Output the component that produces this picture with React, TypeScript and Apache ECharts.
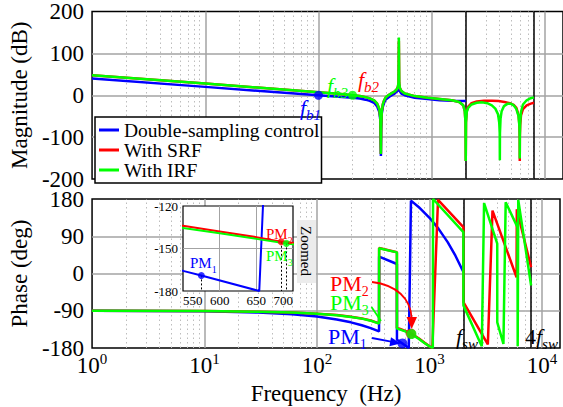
import React, { useEffect, useRef } from 'react';
import * as echarts from 'echarts';

const FONT = "'Liberation Serif', 'Times New Roman', Times, serif";
const BLUE = '#0000ff';
const RED = '#ff0000';
const GREEN = '#00ff00';
const GRIDC = '#a3a3a3';
const MINORC = '#bdbdbd';

const seriesNames = ['Double-sampling control', 'With SRF', 'With IRF'];
const xTickExponents = [0, 1, 2, 3, 4];
const magTicks = [-200, -100, 0, 100, 200];
const phaseTicks = [-180, -90, 0, 90, 180];
const insetFreqTicks = [550, 600, 650, 700];
const insetPhaseTicks = [-180, -150, -120];
const minorFreqs = [
  2, 3, 4, 5, 6, 7, 8, 9,
  20, 30, 40, 50, 60, 70, 80, 90,
  200, 300, 400, 500, 600, 700, 800, 900,
  2000, 3000, 4000, 5000, 6000, 7000, 8000, 9000,
];
const switchingFreqs = [2000, 8000];

// Magnitude (dB)
const dsMagFreq = [1, 10, 50, 100, 150, 200, 232, 260, 284, 310, 330, 345, 352, 356, 358, 362, 370, 380, 393, 420, 444, 470, 491, 505, 513, 522, 540, 578, 708, 920, 1175, 1500, 2000];
const dsMagDb = [40, 20, 6, 0, -3.5, -6, -8, -10.5, -13.5, -18, -27, -40, -60, -145, -80, -45, -28, -18, -10, -4, 0, 4, 9, 12, 14, 10, 4, 0, -6, -9, -12, -13, -14];

const srfMagFreq = [1, 10, 100, 150, 200, 232, 260, 284, 310, 330, 345, 352, 356, 358, 362, 370, 380, 393, 420, 444, 470, 491, 503, 509, 513, 517, 523, 540, 578, 708, 920, 1175, 1500, 1750, 1900, 1960, 1990, 2000, 2010, 2040, 2100, 2250, 2500, 2900, 3400, 3900, 4400, 4900, 5300, 5600, 5850, 5960, 5990, 6000, 6010, 6050, 6150, 6400, 6900, 7500, 8000];
const srfMagDb = [48, 28, 7, 3.5, 0, -2, -4.5, -7.5, -12, -20, -33, -55, -140, -75, -40, -22, -12, -5, 1, 5, 9, 14, 20, 30, 130, 30, 18, 10, 4, -2, -6, -9, -12, -16, -24, -38, -65, -157, -65, -38, -27, -19, -15, -13, -13, -14, -16, -19, -23, -30, -47, -72, -100, -157, -100, -72, -48, -33, -24, -20, -18];

const irfMagFreq = [1, 10, 100, 150, 200, 232, 260, 284, 310, 330, 345, 352, 356, 358, 362, 370, 380, 393, 420, 444, 470, 491, 503, 509, 513, 517, 523, 540, 578, 708, 920, 1175, 1500, 1750, 1900, 1960, 1990, 2000, 2010, 2040, 2100, 2250, 2500, 2800, 3100, 3400, 3650, 3850, 3950, 3990, 4000, 4010, 4060, 4150, 4350, 4700, 5000, 5300, 5600, 5850, 5960, 5990, 6000, 6010, 6050, 6150, 6400, 6900, 7500, 8000];
const irfMagDb = [48, 28, 7, 3.5, 0, -2, -4.5, -7.5, -12, -20, -33, -55, -140, -75, -40, -22, -12, -5, 1, 5, 9, 14, 20, 30, 138, 30, 18, 10, 4, -2, -6, -9, -12, -16, -24, -38, -65, -157, -65, -40, -30, -22, -18, -17, -19, -24, -32, -45, -65, -90, -155, -90, -55, -38, -26, -20, -20, -24, -33, -50, -75, -100, -151, -95, -65, -40, -22, -12, -7, -5];

// Phase (deg)
const dsPhFreq = [1, 10, 30, 60, 100, 150, 200, 250, 300, 356, 356.5, 513, 513.5, 550, 575, 654, 684, 800, 1000, 1200, 1450, 1700, 2000];
const dsPhDeg = [-90, -91.4, -94.2, -98.4, -104, -111, -118, -125, -132, -140, 41, 23, -160, -165.8, -169, -180, 176, 160.8, 134.6, 108.4, 75.7, 43, 3.7];

const srfPhFreq = [1, 10, 30, 60, 100, 150, 200, 250, 300, 356, 356.5, 513, 513.5, 550, 600, 650, 684, 700, 800, 900, 1000, 1060, 1190, 2000, 2001, 3300, 3630, 5940, 5970, 8000];
const srfPhDeg = [-90, -90.8, -92.3, -94.3, -97.2, -100.5, -104.5, -108.5, -113.5, -120.5, 61.5, 51.5, -131.5, -134, -138, -142, -145.3, -146, -156.5, -167, -176, -180, 178, 112, -69, -171.5, 152, -9, 155, 15];

const irfPhFreq = [1, 10, 30, 60, 100, 150, 200, 250, 300, 356, 356.5, 513, 513.5, 550, 600, 650, 691, 700, 800, 900, 1000, 1070, 1075, 2000, 2001, 2915, 3055, 4000, 4002, 4540, 4755, 6050, 6080, 6150, 8000];
const irfPhDeg = [-90, -90.8, -92.3, -94.5, -97.5, -101, -105, -109, -114, -121, 61, 51, -133, -135.5, -139.3, -143.2, -146.4, -147, -157.5, -168, -176, -180, 180, 100, -77, -176, 170, 72, -118, -170, 172, 112, -176, 178, -29];

// Marked points
const fbFreq = [100, 200];
const fbDb = [0, 0];
const fbColors = [BLUE, GREEN];
const pmFreq = [575, 684, 691];
const pmDeg = [-169, -145.3, -146.4];
const pmColors = [BLUE, RED, GREEN];

const L = (f: number) => Math.log10(f);

function lineSeries(name: string, color: string, fr: number[], vals: number[], xi: number, yi: number, logX: boolean, width: number, z: number) {
  return {
    type: 'line', name, xAxisIndex: xi, yAxisIndex: yi,
    data: fr.map((f, i) => [logX ? L(f) : f, vals[i]]),
    showSymbol: false, symbol: 'none', color,
    lineStyle: { color, width }, z, clip: true, animation: false,
  };
}

function gridMarkSeries(idx: number) {
  return [
    {
      type: 'line', xAxisIndex: idx, yAxisIndex: idx, data: [], z: 1, silent: true,
      markLine: {
        silent: true, symbol: 'none', z: 1, animation: false, label: { show: false },
        lineStyle: { type: [1.5, 3], color: MINORC, width: 1 },
        data: minorFreqs.map((f) => ({ xAxis: L(f) })),
      },
    },
    {
      type: 'line', xAxisIndex: idx, yAxisIndex: idx, data: [], z: 1, silent: true,
      markLine: {
        silent: true, symbol: 'none', z: 1, animation: false, label: { show: false },
        lineStyle: { type: 'solid', color: '#000', width: 1.5 },
        data: switchingFreqs.map((f) => ({ xAxis: L(f) })),
      },
    },
  ];
}

const tickLabelStyle = { fontSize: 23, fontFamily: FONT, color: '#000' };

export default function App() {
  const ref = useRef<HTMLDivElement>(null);
  useEffect(() => {
    if (!ref.current) return;
    const chart = echarts.init(ref.current, null, { renderer: 'svg' });
    const mainX = (gi: number, labels: boolean) => ({
      gridIndex: gi, type: 'value', min: xTickExponents[0], max: 4.16, interval: 1,
      axisLine: { show: false }, axisTick: { show: false },
      axisLabel: labels ? {
        show: true, margin: 3, fontFamily: FONT,
        formatter: (v: number) => {
          const n = Math.round(v);
          if (Math.abs(v - n) > 1e-6 || !xTickExponents.includes(n)) return '';
          return `{b|10}{sup|${n}}`;
        },
        rich: {
          b: { fontSize: 23, lineHeight: 28, fontFamily: FONT, color: '#000' },
          sup: { fontSize: 15, lineHeight: 14, verticalAlign: 'top', fontFamily: FONT, color: '#000' },
        },
      } : { show: false },
      splitLine: { show: true, showMinLine: false, showMaxLine: false, lineStyle: { color: GRIDC, width: 1.5 } },
      ...(labels ? {
        name: 'Frequency  (Hz)', nameLocation: 'middle', nameGap: 34,
        nameTextStyle: { fontSize: 23, fontFamily: FONT, color: '#000' },
      } : {}),
    });
    const mainY = (gi: number, ticks: number[], name: string) => ({
      gridIndex: gi, type: 'value', min: ticks[0], max: ticks[ticks.length - 1],
      interval: ticks[1] - ticks[0],
      axisLine: { show: false }, axisTick: { show: false },
      axisLabel: { ...tickLabelStyle, margin: 8 },
      splitLine: { show: true, showMinLine: false, showMaxLine: false, lineStyle: { color: GRIDC, width: 1.5 } },
      name, nameLocation: 'middle', nameGap: 56,
      nameTextStyle: { fontSize: 23, fontFamily: FONT, color: '#000' },
    });

    const sub = (main: string, s: string, color: string, x: number, y: number, size: number, subSize: number, italic: boolean, pre?: string) => {
      const st = italic ? 'italic' : 'normal';
      return {
        type: 'text', x, y, z: 30,
        style: {
          text: (pre ? `{n|${pre}}` : '') + `{m|${main}}{s|${s}}`,
          fill: color, align: 'left', verticalAlign: 'middle',
          font: `normal normal ${size}px ${FONT}`,
          rich: {
            n: { font: `normal normal ${size}px ${FONT}`, fontSize: size, lineHeight: size + 8, fontFamily: FONT, fill: color },
            m: { font: `${st} normal ${size}px ${FONT}`, fontSize: size, lineHeight: size + 8, fontFamily: FONT, fontStyle: st, fill: color },
            s: { font: `${st} normal ${subSize}px ${FONT}`, fontSize: subSize, lineHeight: subSize, verticalAlign: 'bottom', fontFamily: FONT, fontStyle: st, fill: color },
          },
        },
      };
    };

    const option: any = {
      animation: false,
      backgroundColor: '#fff',
      textStyle: { fontFamily: FONT },
      grid: [
        { left: 91, top: 11, width: 473, height: 168, show: true, borderColor: '#000', borderWidth: 1.5, backgroundColor: 'transparent' },
        { left: 91, top: 199, width: 473, height: 149, show: true, borderColor: '#000', borderWidth: 1.5, backgroundColor: 'transparent' },
        { left: 183, top: 206, width: 110, height: 85, show: true, borderColor: '#000', borderWidth: 1.2, backgroundColor: '#fff', z: 10 },
      ],
      xAxis: [
        mainX(0, false),
        mainX(1, true),
        {
          gridIndex: 2, type: 'value', min: insetFreqTicks[0], max: insetFreqTicks[insetFreqTicks.length - 1],
          interval: insetFreqTicks[1] - insetFreqTicks[0], z: 10,
          axisLine: { show: false }, axisTick: { show: false },
          axisLabel: { fontSize: 13, fontFamily: FONT, color: '#000', margin: 3, alignMinLabel: 'left', alignMaxLabel: 'right' },
          splitLine: { show: true, showMinLine: false, showMaxLine: false, lineStyle: { color: GRIDC, width: 1 } },
        },
      ],
      yAxis: [
        mainY(0, magTicks, 'Magnitude (dB)'),
        mainY(1, phaseTicks, 'Phase (deg)'),
        {
          gridIndex: 2, type: 'value', min: insetPhaseTicks[0], max: insetPhaseTicks[insetPhaseTicks.length - 1],
          interval: insetPhaseTicks[1] - insetPhaseTicks[0], z: 10,
          axisLine: { show: false }, axisTick: { show: false },
          axisLabel: { fontSize: 13, fontFamily: FONT, color: '#000', margin: 5 },
          splitLine: { show: true, showMinLine: false, showMaxLine: false, lineStyle: { color: GRIDC, width: 1 } },
        },
      ],
      legend: {
        data: seriesNames, orient: 'vertical', left: 95, top: 117,
        itemWidth: 20, itemHeight: 3, itemGap: 0, icon: 'rect',
        padding: [3, 2, 3, 4], backgroundColor: '#fff', borderColor: '#000', borderWidth: 1.5, borderRadius: 0,
        textStyle: { fontSize: 19.5, fontFamily: FONT, color: '#000', lineHeight: 16 },
        selectedMode: false, z: 8,
      },
      series: [
        ...gridMarkSeries(0),
        ...gridMarkSeries(1),
        lineSeries(seriesNames[0], BLUE, dsMagFreq, dsMagDb, 0, 0, true, 2.5, 3),
        lineSeries(seriesNames[1], RED, srfMagFreq, srfMagDb, 0, 0, true, 2.5, 3),
        lineSeries(seriesNames[2], GREEN, irfMagFreq, irfMagDb, 0, 0, true, 2.5, 3),
        lineSeries(seriesNames[0], BLUE, dsPhFreq, dsPhDeg, 1, 1, true, 2.5, 3),
        lineSeries(seriesNames[1], RED, srfPhFreq, srfPhDeg, 1, 1, true, 2.5, 3),
        lineSeries(seriesNames[2], GREEN, irfPhFreq, irfPhDeg, 1, 1, true, 2.5, 3),
        {
          type: 'scatter', xAxisIndex: 0, yAxisIndex: 0, symbolSize: 9, z: 5,
          data: fbFreq.map((f, i) => ({ value: [L(f), fbDb[i]], itemStyle: { color: fbColors[i] } })),
        },
        {
          type: 'scatter', xAxisIndex: 1, yAxisIndex: 1, symbolSize: 10, z: 5,
          data: pmFreq.map((f, i) => ({ value: [L(f), pmDeg[i]], itemStyle: { color: pmColors[i] } })),
        },
        lineSeries(seriesNames[0], BLUE, dsPhFreq, dsPhDeg, 2, 2, false, 2, 12),
        lineSeries(seriesNames[1], RED, srfPhFreq, srfPhDeg, 2, 2, false, 2, 12),
        lineSeries(seriesNames[2], GREEN, irfPhFreq, irfPhDeg, 2, 2, false, 2, 12),
        {
          type: 'scatter', xAxisIndex: 2, yAxisIndex: 2, symbolSize: 7, z: 14,
          data: pmFreq.map((f, i) => ({ value: [f, pmDeg[i]], itemStyle: { color: pmColors[i] } })),
          markLine: {
            silent: true, symbol: 'none', z: 13, animation: false, label: { show: false },
            lineStyle: { type: [2, 2], color: '#000', width: 1 },
            data: pmFreq.map((f, i) => [{ coord: [f, pmDeg[i]] }, { coord: [f, insetPhaseTicks[0]] }]),
          },
        },
      ],
      graphic: [
        { type: 'rect', z: 15, shape: { x: 297, y: 220, width: 19, height: 63 }, style: { fill: '#ececec' } },
        {
          type: 'text', x: 306, y: 251, rotation: -Math.PI / 2, z: 16,
          style: { text: 'Zoomed', font: `15px ${FONT}`, fontSize: 15, fontFamily: FONT, fill: '#000', align: 'center', verticalAlign: 'middle' },
        },
        sub('f', 'b1', BLUE, 300, 107, 22, 15, true),
        sub('f', 'b3', GREEN, 327, 85, 22, 15, true),
        sub('f', 'b2', RED, 358, 79, 22, 15, true),
        sub('PM', '2', RED, 330, 283, 22, 14, false),
        sub('PM', '3', GREEN, 330, 302, 22, 14, false),
        sub('PM', '1', BLUE, 328, 336, 22, 14, false),
        sub('PM', '1', BLUE, 190, 263, 15, 10, false),
        sub('PM', '2', RED, 266, 234, 15, 10, false),
        sub('PM', '3', GREEN, 266, 256, 15, 10, false),
        sub('f', 'sw', '#000', 456, 336, 22, 15, true),
        sub('f', 'sw', '#000', 525, 336, 22, 15, true, '4'),
        {
          type: 'bezierCurve', z: 25,
          shape: { x1: 372, y1: 282, cpx1: 396, cpy1: 285, cpx2: 411, cpy2: 298, x2: 411.7, y2: 319 },
          style: { stroke: RED, lineWidth: 1.8, fill: 'none' },
        },
        { type: 'polygon', z: 25, shape: { points: [[406.5, 317], [417, 317], [411.7, 329]] }, style: { fill: RED } },
        { type: 'line', z: 25, shape: { x1: 371.5, y1: 307, x2: 381, y2: 321 }, style: { stroke: GREEN, lineWidth: 1.8 } },
        { type: 'line', z: 25, shape: { x1: 372, y1: 338, x2: 391, y2: 341.6 }, style: { stroke: BLUE, lineWidth: 1.8 } },
        { type: 'polygon', z: 25, shape: { points: [[400.5, 343.5], [389.4, 346.2], [391, 337.2]] }, style: { fill: BLUE } },
      ],
    };
    chart.setOption(option);
    return () => chart.dispose();
  }, []);
  return <div ref={ref} style={{ position: 'absolute', left: 0, top: 0, width: 563, height: 407, background: '#fff' }} />;
}
